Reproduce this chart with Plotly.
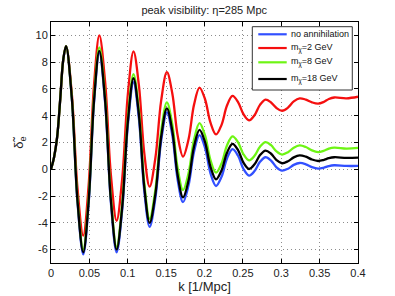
import plotly.graph_objects as go

k = [0, 0.004, 0.008, 0.0121, 0.016, 0.0196,
     0.0271, 0.0345, 0.042,
     0.049, 0.056, 0.063,
     0.0705, 0.078, 0.0855,
     0.0928, 0.1002, 0.1075,
     0.1145, 0.1215, 0.1285,
     0.136, 0.1435, 0.151,
     0.158, 0.165, 0.172,
     0.1792, 0.1863, 0.1935,
     0.2007, 0.2078, 0.215,
     0.2222, 0.2293, 0.2365,
     0.2437, 0.2508, 0.258,
     0.2652, 0.2723, 0.2795,
     0.2867, 0.2938, 0.301,
     0.3087, 0.3163, 0.324,
     0.332, 0.340, 0.348,
     0.355, 0.362, 0.369,
     0.385, 0.4]

no_annihilation = [0, 0.9, 2.4, 5.3, 8.2, 9.2,
                   5.31, -2.46, -6.35,
                   -2.59, 4.94, 8.7,
                   4.98, -2.48, -6.2,
                   -3.03, 3.33, 6.5,
                   3.8, -1.6, -4.3,
                   -2.16, 2.11, 4.25,
                   2.58, -0.78, -2.45,
                   -1.2, 1.3, 2.55,
                   1.6, -0.3, -1.25,
                   -0.56, 0.81, 1.5,
                   1.01, 0.02, -0.47,
                   -0.13, 0.56, 0.9,
                   0.65, 0.15, -0.1,
                   0.04, 0.33, 0.47,
                   0.37, 0.16, 0.05,
                   0.11, 0.24, 0.3,
                   0.25, 0.25]

m2 = [0, 0.9, 2.4, 5.3, 8.2, 9.2,
      5.66, -1.41, -4.95,
      -1.21, 6.26, 10.0,
      6.54, -0.39, -3.85,
      -0.69, 5.64, 8.8,
      6.28, 1.23, -1.3,
      0.84, 5.11, 7.25,
      5.68, 2.53, 0.95,
      2.24, 4.81, 6.1,
      5.23, 3.48, 2.6,
      3.32, 4.76, 5.48,
      5.02, 4.11, 3.65,
      4.04, 4.81, 5.2,
      4.99, 4.58, 4.37,
      4.6, 5.07, 5.3,
      5.2, 5.0, 4.9,
      5.02, 5.25, 5.36,
      5.3, 5.42]

m8 = [0, 0.9, 2.4, 5.3, 8.2, 9.2,
      5.4, -2.2, -6.0,
      -2.23, 5.33, 9.1,
      5.38, -2.08, -5.8,
      -2.58, 3.88, 7.1,
      4.4, -1.0, -3.7,
      -1.53, 2.83, 5.0,
      3.36, 0.09, -1.55,
      -0.3, 2.2, 3.45,
      2.53, 0.68, -0.25,
      0.43, 1.78, 2.45,
      2.01, 1.12, 0.67,
      1.01, 1.69, 2.03,
      1.8, 1.33, 1.1,
      1.27, 1.61, 1.78,
      1.66, 1.41, 1.28,
      1.37, 1.54, 1.62,
      1.55, 1.6]

m18 = [0, 0.9, 2.4, 5.3, 8.2, 9.2,
       5.35, -2.35, -6.2,
       -2.44, 5.09, 8.85,
       5.14, -2.29, -6.0,
       -2.8, 3.6, 6.8,
       4.1, -1.3, -4.0,
       -1.86, 2.41, 4.55,
       2.89, -0.44, -2.1,
       -0.84, 1.69, 2.95,
       2.03, 0.18, -0.75,
       -0.09, 1.24, 1.9,
       1.43, 0.49, 0.02,
       0.37, 1.06, 1.4,
       1.16, 0.69, 0.45,
       0.6, 0.89, 1.04,
       0.94, 0.73, 0.62,
       0.69, 0.83, 0.9,
       0.85, 0.87]

names = ["no annihilation", "m<sub>χ</sub>=2 GeV", "m<sub>χ</sub>=8 GeV", "m<sub>χ</sub>=18 GeV"]
colors = ["rgb(50,80,255)", "rgb(245,15,15)", "rgb(110,245,20)", "black"]
series = [no_annihilation, m2, m8, m18]

x_ticks = [0, 0.05, 0.1, 0.15, 0.2, 0.25, 0.3, 0.35, 0.4]
x_labels = ["0", "0.05", "0.1", "0.15", "0.2", "0.25", "0.3", "0.35", "0.4"]
y_ticks = [-6, -4, -2, 0, 2, 4, 6, 8, 10]
y_labels = ["-6", "-4", "-2", "0", "2", "4", "6", "8", "10"]

fig = go.Figure()
for name, col, ys in zip(names, colors, series):
    fig.add_trace(go.Scatter(x=k, y=ys, mode="lines", name=name, showlegend=False,
                             line=dict(color=col, width=2.3, shape="spline", smoothing=1.0)))

# custom compact legend (paper coordinates)
fig.add_shape(type="rect", xref="paper", yref="paper", x0=0.6557, x1=0.9814,
              y0=0.7178, y1=0.9805, line=dict(color="#333", width=1),
              fillcolor="white", layer="above")
legend_rows_y = [0.949, 0.892, 0.8327, 0.7634]
for name, col, yy in zip(names, colors, legend_rows_y):
    fig.add_shape(type="line", xref="paper", yref="paper", x0=0.6752, x1=0.7678,
                  y0=yy, y1=yy, line=dict(color=col, width=2.2), layer="above")
    fig.add_annotation(xref="paper", yref="paper", x=0.7762, y=yy, text=name,
                       showarrow=False, xanchor="left", yanchor="middle",
                       font=dict(size=9, color="#111"))

font_family = "Liberation Sans, Arial, sans-serif"
axis_common = dict(showline=True, linecolor="black", linewidth=1, mirror="ticks",
                   ticks="inside", ticklen=4, tickcolor="black", automargin=False,
                   showgrid=True, gridcolor="rgb(140,140,140)", griddash="1px,3px", gridwidth=1,
                   zeroline=False, tickfont=dict(size=11, color="#222", family=font_family))

fig.update_layout(
    width=395, height=296,
    margin=dict(l=51, r=37, t=22, b=33, autoexpand=False),
    paper_bgcolor="white", plot_bgcolor="white",
    font=dict(family=font_family, color="#222"),
    title=dict(text="peak visibility: η=285 Mpc", x=0.517, xanchor="center",
               y=0.966, yanchor="middle", yref="container",
               font=dict(size=11, color="#222")),
    xaxis=dict(range=[0, 0.4], tickvals=x_ticks, ticktext=x_labels,
               title=dict(text="k [1/Mpc]", font=dict(size=13), standoff=2), **axis_common),
    yaxis=dict(range=[-7, 11], tickvals=y_ticks, ticktext=y_labels,
               title=dict(text="δ̃<sub>e</sub>", font=dict(size=13), standoff=8), **axis_common),
    showlegend=False,
)

fig.write_html("out.html", config={"displayModeBar": False},
               post_script="document.body.style.margin='0px';")
